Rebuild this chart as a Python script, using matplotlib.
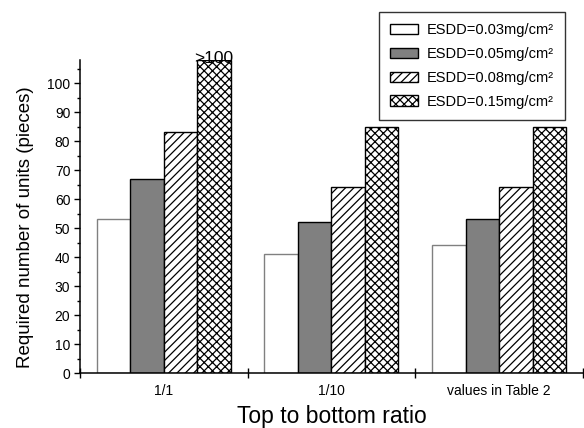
import matplotlib.pyplot as plt
import matplotlib.patches as mpatches
import numpy as np

plt.rcParams['font.family'] = ['Liberation Sans', 'DejaVu Sans']
plt.rcParams['hatch.linewidth'] = 0.9

# data
categories = ['1/1', '1/10', 'values in Table 2']
esdd_003 = [53, 41, 44]
esdd_005 = [67, 52, 53]
esdd_008 = [83, 64, 64]
esdd_015 = [108, 85, 85]
series_labels = ['ESDD=0.03mg/cm²', 'ESDD=0.05mg/cm²',
                 'ESDD=0.08mg/cm²', 'ESDD=0.15mg/cm²']

fig = plt.figure(figsize=(5.84, 4.28), dpi=100)
ax = fig.add_axes([0.137, 0.1285, 0.861, 0.7315])

x = np.arange(len(categories))
width = 0.2
styles = [
    dict(facecolor='white', edgecolor='#808080', hatch=None),
    dict(facecolor='#808080', edgecolor='black', hatch=None),
    dict(facecolor='white', edgecolor='black', hatch='////'),
    dict(facecolor='white', edgecolor='black', hatch='xxxx'),
]
series = [esdd_003, esdd_005, esdd_008, esdd_015]
for i, (vals, st) in enumerate(zip(series, styles)):
    ax.bar(x + 0.1 + width * i, vals, width, align='edge',
           facecolor=st['facecolor'], edgecolor=st['edgecolor'],
           hatch=st['hatch'], linewidth=1.0)

# the first group's tallest bar goes off scale
ax.text(0.1 + width * 3.5, 107.0, '>100', ha='center', va='baseline', fontsize=12.5)

ax.set_xlim(0, 3)
ax.set_ylim(0, 108)
ax.spines['top'].set_visible(False)
ax.spines['right'].set_visible(False)
ax.spines['left'].set_linewidth(1.1)
ax.spines['bottom'].set_linewidth(1.1)

ax.set_yticks(np.arange(0, 101, 10))
ax.set_yticks(np.arange(5, 108, 10), minor=True)
ax.tick_params(axis='y', which='major', direction='out', length=4, width=1, labelsize=10, pad=3)
ax.tick_params(axis='y', which='minor', direction='out', length=2.5, width=1)

ax.set_xticks([0, 1, 2, 3])
ax.set_xticklabels([])
ax.set_xticks(x + 0.5, minor=True)
ax.set_xticklabels(categories, minor=True)
ax.tick_params(axis='x', which='major', direction='inout', length=7, width=1)
ax.tick_params(axis='x', which='minor', length=0, labelsize=10, pad=8)

ax.set_ylabel('Required number of units (pieces)', fontsize=13.5)
ax.yaxis.set_label_coords(-0.091, 0.466)
ax.set_xlabel('Top to bottom ratio', fontsize=16.5, labelpad=5)

handles = [mpatches.Patch(facecolor=st['facecolor'], edgecolor='black',
                          hatch=st['hatch'], linewidth=1.0) for st in styles]
leg = fig.legend(handles, series_labels, loc='upper right', bbox_to_anchor=(0.967, 0.972),
                 fontsize=10.5, frameon=True, fancybox=False, edgecolor='black',
                 handlelength=1.95, handleheight=0.7, borderpad=0.75, labelspacing=0.68,
                 handletextpad=0.6, borderaxespad=0)
leg.get_frame().set_linewidth(1.0)

fig.savefig('out.png', dpi=100)
